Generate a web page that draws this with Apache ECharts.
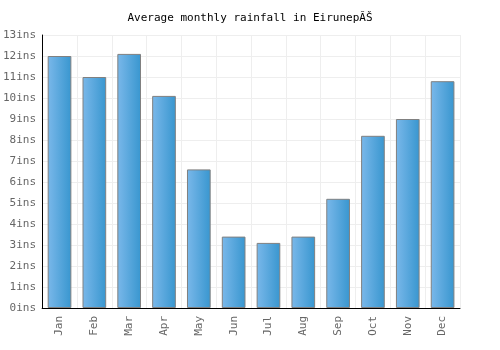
<!DOCTYPE html>
<html>
<head>
<meta charset="utf-8">
<script src="https://cdn.jsdelivr.net/npm/echarts@6/dist/echarts.min.js"></script>
<style>
html, body { margin: 0; padding: 0; background: #fff; }
#chart { width: 500px; height: 350px; }
</style>
</head>
<body>
<div id="chart"></div>
<script>
var months = ['Jan', 'Feb', 'Mar', 'Apr', 'May', 'Jun', 'Jul', 'Aug', 'Sep', 'Oct', 'Nov', 'Dec'];
var rainfall = [12.0, 11.0, 12.1, 10.1, 6.6, 3.4, 3.1, 3.4, 5.2, 8.2, 9.0, 10.8];
var titleText = 'Average monthly rainfall in EirunepĂŠ';

var font = '"DejaVu Sans Mono", monospace';
var myChart = echarts.init(document.getElementById('chart'));
myChart.setOption({
    animation: false,
    title: {
        text: titleText,
        left: 'center',
        top: 8,
        textStyle: { fontFamily: font, fontSize: 11, fontWeight: 'normal', color: '#000' }
    },
    grid: { left: 40, right: 40, top: 35, bottom: 42 },
    xAxis: {
        type: 'category',
        data: months,
        axisLine: { lineStyle: { color: '#000', width: 1 } },
        axisTick: { show: false },
        axisLabel: { rotate: 90, fontFamily: font, fontSize: 11, color: '#666', margin: 8 },
        splitLine: { show: true, lineStyle: { color: '#eeeeee' } }
    },
    yAxis: {
        type: 'value',
        min: 0,
        max: 13,
        interval: 1,
        axisLine: { show: true, lineStyle: { color: '#000', width: 1 } },
        axisTick: { show: false },
        axisLabel: { formatter: '{value}ins', fontFamily: font, fontSize: 11, color: '#666', margin: 6 },
        splitLine: { lineStyle: { color: '#eeeeee' } }
    },
    series: [{
        type: 'bar',
        data: rainfall,
        barCategoryGap: '32%',
        itemStyle: {
            color: new echarts.graphic.LinearGradient(0, 0, 1, 0, [
                { offset: 0, color: '#7ab8ea' },
                { offset: 1, color: '#3896cf' }
            ]),
            borderColor: '#808080',
            borderWidth: 1
        }
    }]
});
</script>
</body>
</html>
